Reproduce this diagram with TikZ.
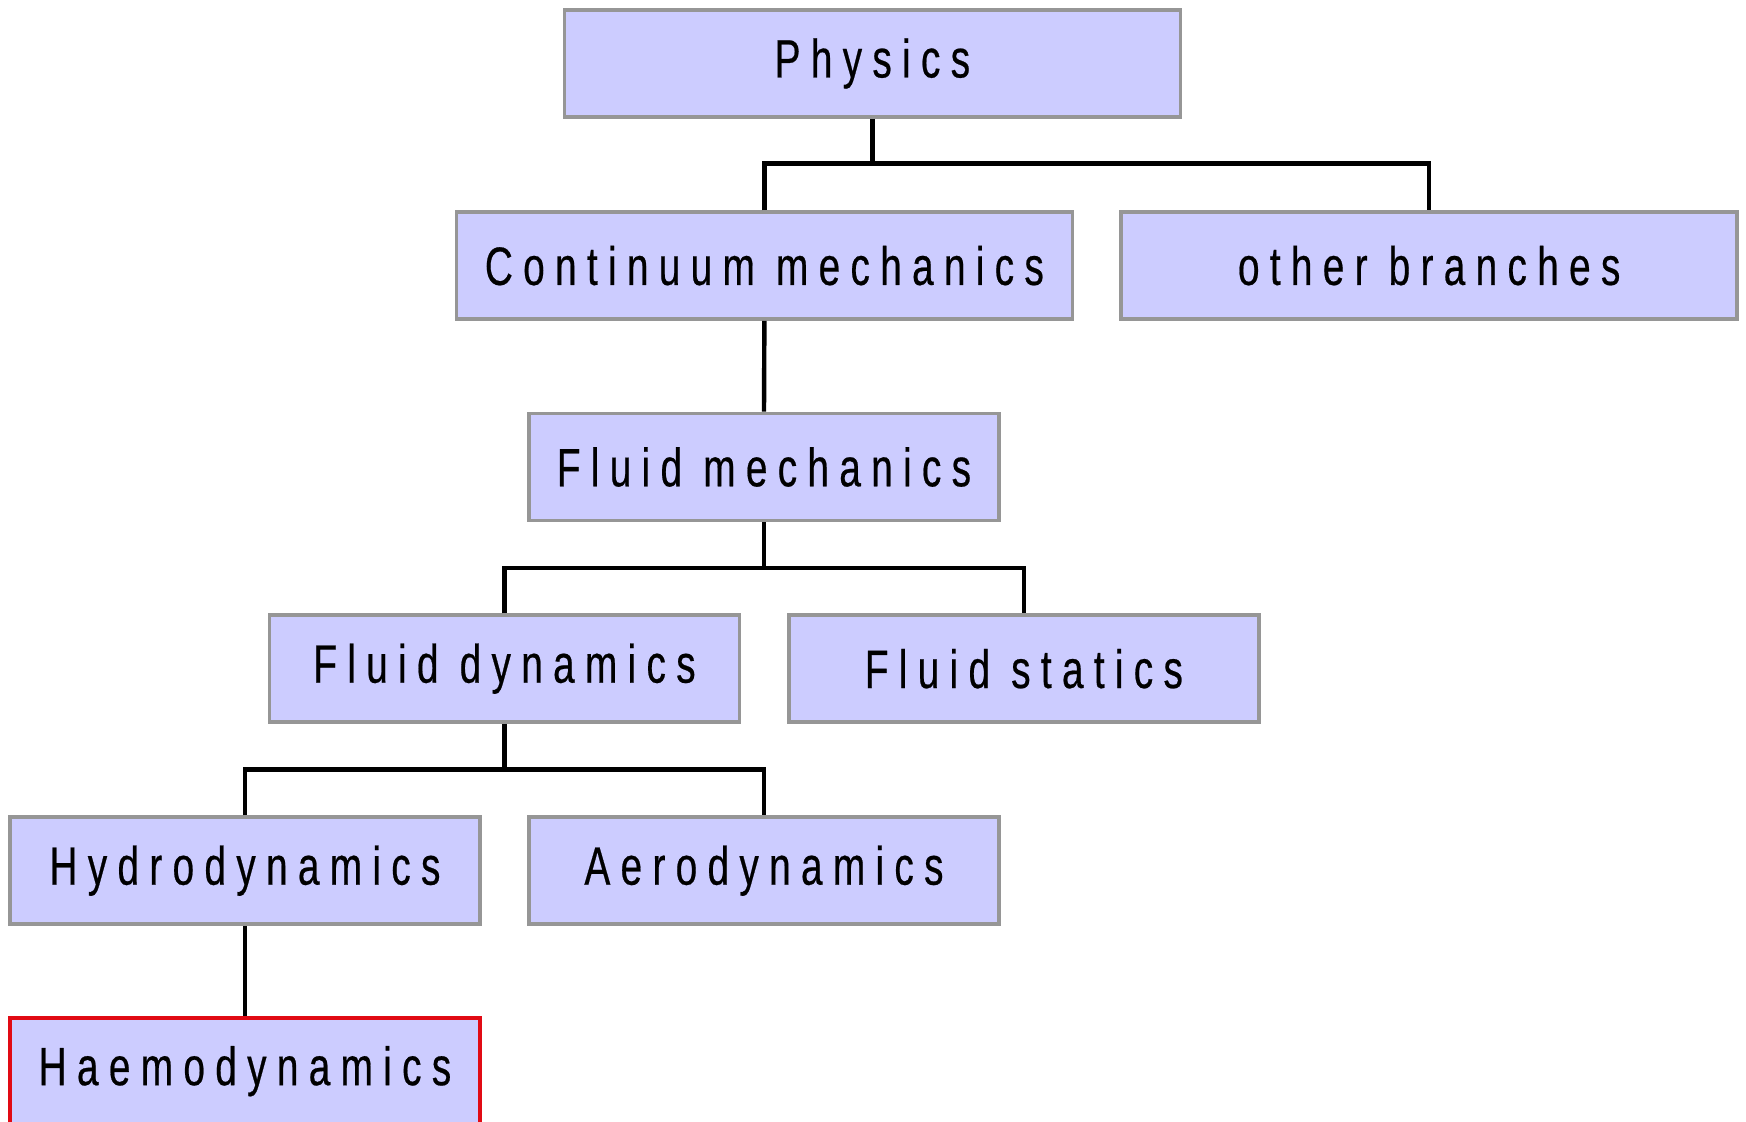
\documentclass[tikz,border=0pt]{standalone}
\usepackage{fontspec}
\setmainfont{Liberation Sans}[FakeStretch=0.72,LetterSpace=19,FakeBold=0.4]
\begin{document}
\begin{tikzpicture}[x=0.5pt,y=-0.5pt,
  box/.style={draw=boxgray,line width=1.8pt,fill=boxfill,minimum width=235pt,minimum height=53.5pt,inner sep=0pt,font=\fontsize{27}{32}\selectfont},
  wide/.style={box,minimum width=308pt},
  conn/.style={line width=2.2pt,draw=black}]
\definecolor{boxfill}{RGB}{204,204,255}
\definecolor{boxgray}{RGB}{150,150,150}
\definecolor{boxred}{RGB}{225,10,20}
\useasboundingbox (0,0) rectangle (1746,1122);
\clip (0,0) rectangle (1746,1122);
\fill[white] (0,0) rectangle (1746,1122);
\node[wide] (phys) at (872.4,63.5) {Physics};
\node[wide] (cont) at (764.4,265.6) {Continuum mechanics};
\node[wide] (oth) at (1429.2,265.6) {other branches};
\node[box] (fmech) at (764,467) {Fluid mechanics};
\node[box] (fdyn) at (504.5,668.7) {Fluid dynamics};
\node[box] (fstat) at (1023.9,668.7) {Fluid statics};
\node[box] (hydro) at (245,870.7) {Hydrodynamics};
\node[box] (aero) at (764,870.7) {Aerodynamics};
\node[box,draw=boxred] (haem) at (245,1071.2) {Haemodynamics};
\coordinate (j1) at (872.4,163.7);
\coordinate (j2) at (764,568);
\coordinate (j3) at (504.5,769.4);
\draw[conn] (phys.south) -- (j1);
\draw[conn] (cont.north) |- (j1) -| (oth.north);
\draw[conn] (cont.south) -- (fmech.north);
\draw[conn] (fmech.south) -- (j2);
\draw[conn] (fdyn.north) |- (j2) -| (fstat.north);
\draw[conn] (fdyn.south) -- (j3);
\draw[conn] (hydro.north) |- (j3) -| (aero.north);
\draw[conn] (hydro.south) -- (haem.north);
\end{tikzpicture}
\end{document}
